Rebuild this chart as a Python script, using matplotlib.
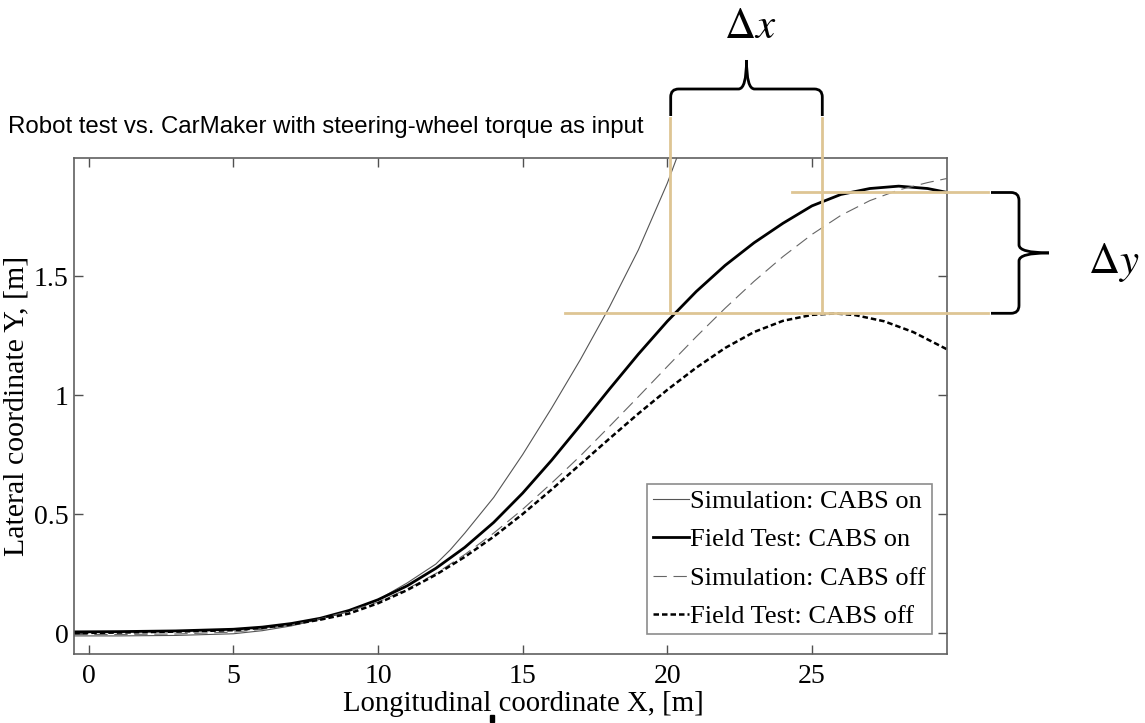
import matplotlib
matplotlib.use("Agg")
import matplotlib.pyplot as plt
from matplotlib.path import Path
from matplotlib.patches import PathPatch, Rectangle
from matplotlib.transforms import Affine2D

plt.rcParams['font.family'] = ['Liberation Serif', 'DejaVu Serif']
plt.rcParams['mathtext.fontset'] = 'stix'

# ---- data ----
sim_on_x = [-0.5, 1, 3, 5, 6, 7, 8, 9, 10, 11, 12, 12.5, 13, 14, 15, 16, 17, 18, 19, 20, 20.4]
sim_on_y = [-0.012, -0.012, -0.01, -0.003, 0.01, 0.03, 0.058, 0.095, 0.14, 0.21, 0.29, 0.35, 0.42, 0.57, 0.75, 0.945, 1.15, 1.37, 1.61, 1.89, 2.02]

field_on_x = [-0.5, 1, 3, 5, 6, 7, 8, 9, 10, 11, 12, 13, 14, 15, 16, 17, 18, 19, 20, 21, 22, 23, 24, 25, 26, 27, 28, 29, 29.66]
field_on_y = [0.005, 0.006, 0.009, 0.016, 0.025, 0.04, 0.062, 0.095, 0.14, 0.198, 0.272, 0.36, 0.465, 0.588, 0.726, 0.874, 1.025, 1.172, 1.31, 1.435, 1.545, 1.64, 1.722, 1.795, 1.843, 1.868, 1.878, 1.868, 1.852]

sim_off_x = [-0.5, 1, 3, 5, 6, 7, 8, 9, 10, 11, 12, 13, 14, 15, 16, 17, 18, 19, 20, 21, 22, 23, 24, 25, 26, 27, 28, 29, 29.66]
sim_off_y = [-0.006, -0.006, -0.004, 0.004, 0.016, 0.034, 0.06, 0.092, 0.13, 0.185, 0.25, 0.33, 0.42, 0.52, 0.63, 0.745, 0.868, 0.993, 1.12, 1.245, 1.365, 1.478, 1.582, 1.675, 1.755, 1.817, 1.862, 1.893, 1.91]

field_off_x = [-0.5, 1, 3, 5, 6, 7, 8, 9, 10, 11, 12, 13, 14, 15, 16, 17, 18, 19, 20, 21, 22, 23, 24, 25, 25.8, 26.5, 27.5, 28.5, 29.66]
field_off_y = [0.0, 0.002, 0.006, 0.012, 0.022, 0.036, 0.056, 0.082, 0.125, 0.18, 0.245, 0.32, 0.405, 0.50, 0.603, 0.71, 0.817, 0.922, 1.022, 1.115, 1.198, 1.265, 1.312, 1.337, 1.343, 1.336, 1.31, 1.265, 1.193]

labels = ["Simulation: CABS on", "Field Test: CABS on", "Simulation: CABS off", "Field Test: CABS off"]
x_ticks = [0, 5, 10, 15, 20, 25]
y_ticks = [0, 0.5, 1, 1.5]
y_tick_labels = ["0", "0.5", "1", "1.5"]

# annotation marks (data coordinates)
dx_x = [20.1, 25.35]          # vertical guide lines
dy_y = [1.343, 1.852]         # horizontal guide lines

W, H = 1145, 723
fig = plt.figure(figsize=(W / 100, H / 100), dpi=100)
ax = fig.add_axes([74 / W, 1 - 654 / H, (946.7 - 74) / W, (654 - 158.3) / H])

ax.plot(sim_on_x, sim_on_y, color='#555555', lw=0.8, label=labels[0])
ax.plot(field_on_x, field_on_y, color='black', lw=2.0, label=labels[1])
ax.plot(sim_off_x, sim_off_y, color='#666666', lw=0.8, dashes=(12, 6), label=labels[2])
ax.plot(field_off_x, field_off_y, color='black', lw=1.8, dashes=(2.2, 1.2), label=labels[3])

ax.set_xlim(-0.51, 29.66)
ax.set_ylim(-0.088, 1.995)
ax.set_xticks(x_ticks)
ax.set_yticks(y_ticks)
ax.set_yticklabels(y_tick_labels)
ax.tick_params(direction='in', length=6.5, width=1, top=True, right=True,
               labelsize=20, color='#505050')
ax.tick_params(axis='x', pad=7)
ax.tick_params(axis='y', pad=4)
for s in ax.spines.values():
    s.set_color('#606060')
    s.set_linewidth(1.2)

ax.set_xlabel("Longitudinal coordinate X, [m]", fontsize=20.7)
ax.xaxis.set_label_coords(0.5145, -0.074)
ax.set_ylabel("Lateral coordinate Y, [m]", fontsize=21.5)
ax.yaxis.set_label_coords(-0.051, 0.5)

leg = ax.legend(loc='lower right', bbox_to_anchor=(0.983, 0.040), fontsize=19,
                frameon=True, fancybox=False, edgecolor='#707070',
                handlelength=1.36, handletextpad=0.05, labelspacing=0.57,
                borderpad=0.22, borderaxespad=0)
leg.get_frame().set_linewidth(1.2)

tan = '#DEC594'
top_y = 2.164
ax.plot([dx_x[0], dx_x[0]], [dy_y[0], top_y], color=tan, lw=2, clip_on=False, zorder=5)
ax.plot([dx_x[1], dx_x[1]], [dy_y[0], top_y], color=tan, lw=2, clip_on=False, zorder=5)
ax.plot([16.46, 31.08], [dy_y[0], dy_y[0]], color=tan, lw=2, clip_on=False, zorder=5)
ax.plot([24.3, 31.08], [dy_y[1], dy_y[1]], color=tan, lw=2, clip_on=False, zorder=5)

# pixel transform (y downward) for braces
pix = Affine2D().scale(1 / W, -1 / H).translate(0, 1) + fig.transFigure

CODES = [Path.MOVETO, Path.LINETO, Path.CURVE3, Path.CURVE3,
         Path.LINETO, Path.CURVE3, Path.CURVE3]

def hbrace(x0, x1, y_tip, y_mid, r=8):
    xm = (x0 + x1) / 2
    y_bar = y_tip - 27
    v = [(x0, y_tip), (x0, y_bar + r), (x0, y_bar), (x0 + r, y_bar),
         (xm - r, y_bar), (xm, y_bar), (xm, y_mid)]
    v2 = [(x1, y_tip), (x1, y_bar + r), (x1, y_bar), (x1 - r, y_bar),
          (xm + r, y_bar), (xm, y_bar), (xm, y_mid)]
    for vv in (v, v2):
        fig.add_artist(PathPatch(Path(vv, CODES), transform=pix, fill=False,
                                 lw=2, color='black'))

def vbrace(y0, y1, x_tip, x_mid, r=8):
    ym = (y0 + y1) / 2
    x_bar = x_tip + 28
    v = [(x_tip, y0), (x_bar - r, y0), (x_bar, y0), (x_bar, y0 + r),
         (x_bar, ym - r), (x_bar, ym), (x_mid, ym)]
    v2 = [(x_tip, y1), (x_bar - r, y1), (x_bar, y1), (x_bar, y1 - r),
          (x_bar, ym + r), (x_bar, ym), (x_mid, ym)]
    for vv in (v, v2):
        fig.add_artist(PathPatch(Path(vv, CODES), transform=pix, fill=False,
                                 lw=2, color='black'))

hbrace(670.7, 822.3, 116, 60)
vbrace(192.5, 313.3, 991, 1049)

fig.text(750 / W, 1 - 28 / H, r"$\Delta x$", fontsize=31, ha='center', va='center')
fig.text(1088 / W, 1 - 262 / H, r"$\Delta y$", fontsize=31, ha='left', va='center')

fig.text(8 / W, 1 - 127 / H, "Robot test vs. CarMaker with steering-wheel torque as input",
         fontsize=17.3, family=['Liberation Sans', 'DejaVu Sans'], ha='left', va='center')

# small black mark under the x-axis label
fig.add_artist(Rectangle((489.5 / W, 1 - 722 / H), 4 / W, 7 / H,
                         transform=fig.transFigure, color='black'))

fig.savefig("out.png", dpi=100)
